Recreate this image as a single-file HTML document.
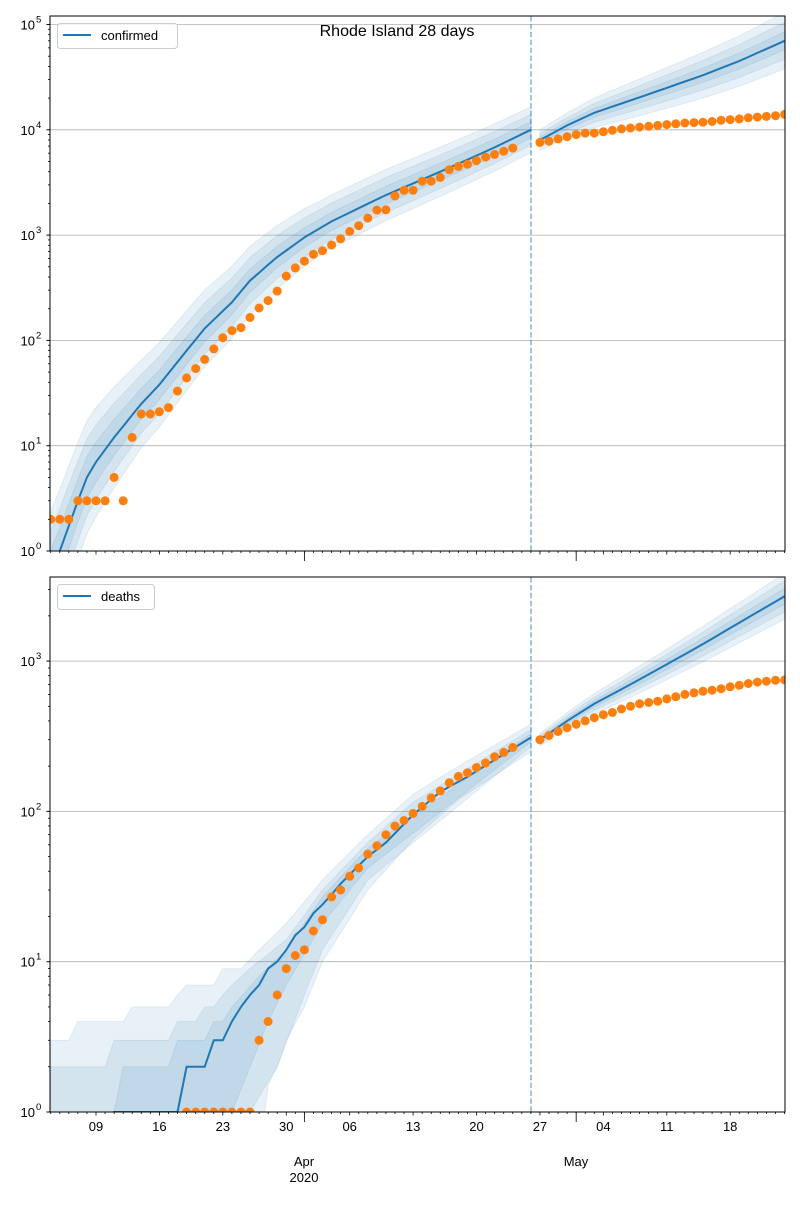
<!DOCTYPE html>
<html><head><meta charset="utf-8"><style>
body{margin:0;background:#fff;font-family:"Liberation Sans","DejaVu Sans",sans-serif;}
</style></head><body>
<svg id="s" width="800" height="1200" xmlns="http://www.w3.org/2000/svg" font-family="Liberation Sans, DejaVu Sans, sans-serif"></svg>
<script>
const S=document.getElementById('s');let h='';
const X=d=>50.7+d*9.06;
function interp(keys,d){
 if(d<=keys[0][0])return keys[0][1];
 for(let i=1;i<keys.length;i++){if(d<=keys[i][0]){const [a,va]=keys[i-1],[b,vb]=keys[i];const t=(d-a)/(b-a);return Math.exp(Math.log(va)+t*(Math.log(vb)-Math.log(va)));}}
 return keys[keys.length-1][1];}
function interpL(keys,d){if(d<=keys[0][0])return keys[0][1];for(let i=1;i<keys.length;i++){if(d<=keys[i][0]){const [a,va]=keys[i-1],[b,vb]=keys[i];return va+(d-a)/(b-a)*(vb-va);}}return keys[keys.length-1][1];}
function panel(y0,y1,top,decPx,cfg){
 const Y=v=>{v=Math.max(v,0.3);return y1-Math.log10(v)*decPx;};
 const cid='c'+y0;
 h+=`<clipPath id="${cid}"><rect x="50" y="${y0}" width="735" height="${y1-y0}"/></clipPath>`;
 h+=`<g clip-path="url(#${cid})">`;
 for(let k=0;k<=5;k++){const y=y1-k*decPx;if(y>=y0)h+=`<line x1="50" x2="785" y1="${y}" y2="${y}" stroke="#b0b0b0" stroke-width="0.8"/>`;}
 for(const seg of cfg.segs){
  for(const b of seg.bands){
   let up=[],lo=[];
   for(let d=seg.a;d<=seg.b;d++){up.push(X(d).toFixed(1)+','+Y(b.u(d)).toFixed(1));lo.push(X(d).toFixed(1)+','+Y(b.l(d)).toFixed(1));}
   h+=`<polygon points="${up.join(' ')} ${lo.reverse().join(' ')}" fill="#1f77b4" fill-opacity="0.1" stroke="#1f77b4" stroke-opacity="0.12" stroke-width="0.8"/>`;
  }
  let p=[];for(let d=seg.a;d<=seg.b;d++)p.push(X(d).toFixed(1)+','+Y(seg.line(d)).toFixed(1));
  h+=`<polyline points="${p.join(' ')}" fill="none" stroke="#1f77b4" stroke-width="2"/>`;
 }
 h+=`<line x1="531" x2="531" y1="${y0}" y2="${y1}" stroke="#1f77b4" stroke-opacity="0.55" stroke-width="1.5" stroke-dasharray="5.5,2.4"/>`;
 cfg.dots.forEach((v,i)=>{if(v==null)return;h+=`<circle cx="${X(i).toFixed(1)}" cy="${Y(v).toFixed(1)}" r="4.5" fill="#ff7f0e"/>`;});
 h+='</g>';
 h+=`<rect x="50" y="${y0}" width="735" height="${y1-y0}" fill="none" stroke="#000" stroke-width="1"/>`;
 for(let k=0;k<=5;k++){const y=y1-k*decPx;if(y<y0-1)continue;
  h+=`<line x1="46.5" x2="50" y1="${y}" y2="${y}" stroke="#000"/>`;
  h+=`<text x="35" y="${y+5}" font-size="13" text-anchor="end">10</text><text x="36" y="${y-2}" font-size="9.5">${k}</text>`;
  for(let m=2;m<=9;m++){const ym=y-Math.log10(m)*decPx;if(ym>y0)h+=`<line x1="48" x2="50" y1="${ym}" y2="${ym}" stroke="#000" stroke-width="0.8"/>`;}
 }
 for(let d=0;d<=81;d++){const x=X(d);const major=(d-5)%7==0;h+=`<line x1="${x}" x2="${x}" y1="${y1}" y2="${y1+(major?3.5:2)}" stroke="#000" stroke-width="0.8"/>`;}
 h+=`<line x1="${X(28)}" x2="${X(28)}" y1="${y1}" y2="${y1+10}" stroke="#000" stroke-width="0.8"/><line x1="${X(58)}" x2="${X(58)}" y1="${y1}" y2="${y1+10}" stroke="#000" stroke-width="0.8"/>`;
}
const cLine1=[[0,0.6],[1,1],[3,3],[4,5],[5,7],[7,12],[10,25],[12,38],[15,80],[17,130],[20,230],[22,370],[25,620],[28,950],[31,1350],[34,1800],[37,2400],[40,3100],[43,4000],[46,5200],[49,6800],[53,10000]];
const cLine2=[[54,8000],[57,11000],[60,14500],[64,19000],[68,25000],[72,33000],[76,45000],[81,70000]];
const cF1=[[0,4],[10,2.6],[30,1.8],[53,1.65]],cF2=[[0,2.6],[10,1.9],[30,1.5],[53,1.4]],cF3=[[0,1.7],[10,1.4],[30,1.22],[53,1.2]];
const cG1=[[54,1.25],[81,1.85]],cG2=[[54,1.15],[81,1.5]],cG3=[[54,1.07],[81,1.22]];
function fb(line,F){return {u:d=>interp(line,d)*interpL(F,d),l:d=>interp(line,d)/interpL(F,d)};}
const cDots=[2,2,2,3,3,3,3,5,3,12,20,20,21,23,33,44,54,66,83,106,124,132,165,203,239,294,408,488,566,657,711,806,922,1082,1229,1450,1727,1739,2349,2665,2665,3251,3251,3529,4177,4491,4706,5090,5500,5841,6256,6699,null,null,7600,7800,8200,8600,9000,9300,9300,9600,9900,10200,10400,10600,10800,11000,11200,11400,11600,11700,11800,12000,12300,12500,12700,13000,13200,13400,13600,14000];
panel(16,551,5,105.3,{dots:cDots,segs:[
 {a:0,b:53,line:d=>interp(cLine1,d),bands:[fb(cLine1,cF1),fb(cLine1,cF2),fb(cLine1,cF3)]},
 {a:54,b:81,line:d=>interp(cLine2,d),bands:[fb(cLine2,cG1),fb(cLine2,cG2),fb(cLine2,cG3)]}]});
const dLine1=[[0,0.5],[6,0.5],[7,1],[14,1],[15,2],[17,2],[18,3],[19,3],[20,4],[21,5],[22,6],[23,7],[24,9],[25,10],[26,12],[27,15],[28,17],[29,21],[30,24],[31,28],[32,33],[33,38],[35,50],[37,62],[40,95],[43,135],[46,170],[50,240],[53,310]];
const dLine2=[[54,300],[57,400],[60,520],[64,700],[68,950],[72,1300],[76,1800],[81,2700]];
const step=k=>(d=>{let v=k[0][1];for(const [a,b] of k){if(d>=a)v=b;}return v;});
const mix=(st,sm,sw)=>(d=>d<sw?st(d):sm(d));
const b1={u:mix(step([[0,3],[3,4],[9,5],[14,6],[15,7],[17,7],[19,9]]),d=>interp([[21,9],[23,12],[26,18],[30,35],[35,70],[40,130],[45,200],[53,380]],d),21),l:d=>interp([[0,0.5],[23,0.5],[24,1.5],[25,2],[26,3],[28,5],[30,10],[35,30],[40,65],[45,120],[53,250]],d)};
const b2={u:mix(step([[0,2],[7,3],[14,4],[16,4],[17,5],[19,6]]),d=>interp([[20,7],[22,9],[26,14],[30,30],[35,62],[40,115],[53,350]],d),20),l:d=>interp([[0,0.5],[21,0.5],[22,1],[25,2],[28,6],[30,12],[35,35],[53,270]],d)};
const b3={u:mix(step([[0,0.5],[7,1],[8,2],[14,3],[17,3],[18,4]]),d=>interp([[19,4],[20,5],[23,8],[26,12],[30,27],[35,57],[53,330]],d),19),l:d=>interp([[0,0.5],[19,0.5],[20,1],[22,2],[24,4],[26,7],[30,18],[35,42],[53,290]],d)};
const dG1=[[54,1.1],[81,1.42]],dG2=[[54,1.06],[81,1.27]],dG3=[[54,1.03],[81,1.13]];
const dDots=[];for(let i=0;i<15;i++)dDots.push(null);
[1,1,1,1,1,1,1,1,3,4,6,9,11,12,16,19,27,30,37,42,52,59,70,80,87,97,108,123,137,155,171,181,196,210,231,247,266,null,null,300,320,340,360,380,400,420,440,455,480,500,520,530,540,560,580,600,615,630,640,655,675,690,710,725,735,745,750].forEach(v=>dDots.push(v));
panel(577,1112,3.56,150.3,{dots:dDots,segs:[
 {a:0,b:53,line:d=>interp(dLine1,d),bands:[b1,b2,b3]},
 {a:54,b:81,line:d=>interp(dLine2,d),bands:[fb(dLine2,dG1),fb(dLine2,dG2),fb(dLine2,dG3)]}]});
const lab=[[5,'09'],[12,'16'],[19,'23'],[26,'30'],[33,'06'],[40,'13'],[47,'20'],[54,'27'],[61,'04'],[68,'11'],[75,'18']];
lab.forEach(([d,t])=>h+=`<text x="${X(d)}" y="1131" font-size="13" text-anchor="middle">${t}</text>`);
h+=`<text x="304" y="1166" font-size="13" text-anchor="middle">Apr</text><text x="304" y="1182" font-size="13" text-anchor="middle">2020</text><text x="576" y="1166" font-size="13" text-anchor="middle">May</text>`;
h+=`<text x="397" y="36" font-size="16" text-anchor="middle">Rhode Island 28 days</text>`;
h+=`<rect x="57.5" y="23.5" width="120" height="25" rx="3" fill="#fff" fill-opacity="0.8" stroke="#ccc"/><line x1="63" x2="91" y1="35" y2="35" stroke="#1f77b4" stroke-width="2"/><text x="101" y="40" font-size="13">confirmed</text>`;
h+=`<rect x="57.5" y="584.5" width="97" height="25" rx="3" fill="#fff" fill-opacity="0.8" stroke="#ccc"/><line x1="63" x2="91" y1="596" y2="596" stroke="#1f77b4" stroke-width="2"/><text x="101" y="601" font-size="13">deaths</text>`;
S.innerHTML=h;
</script>
</body></html>
